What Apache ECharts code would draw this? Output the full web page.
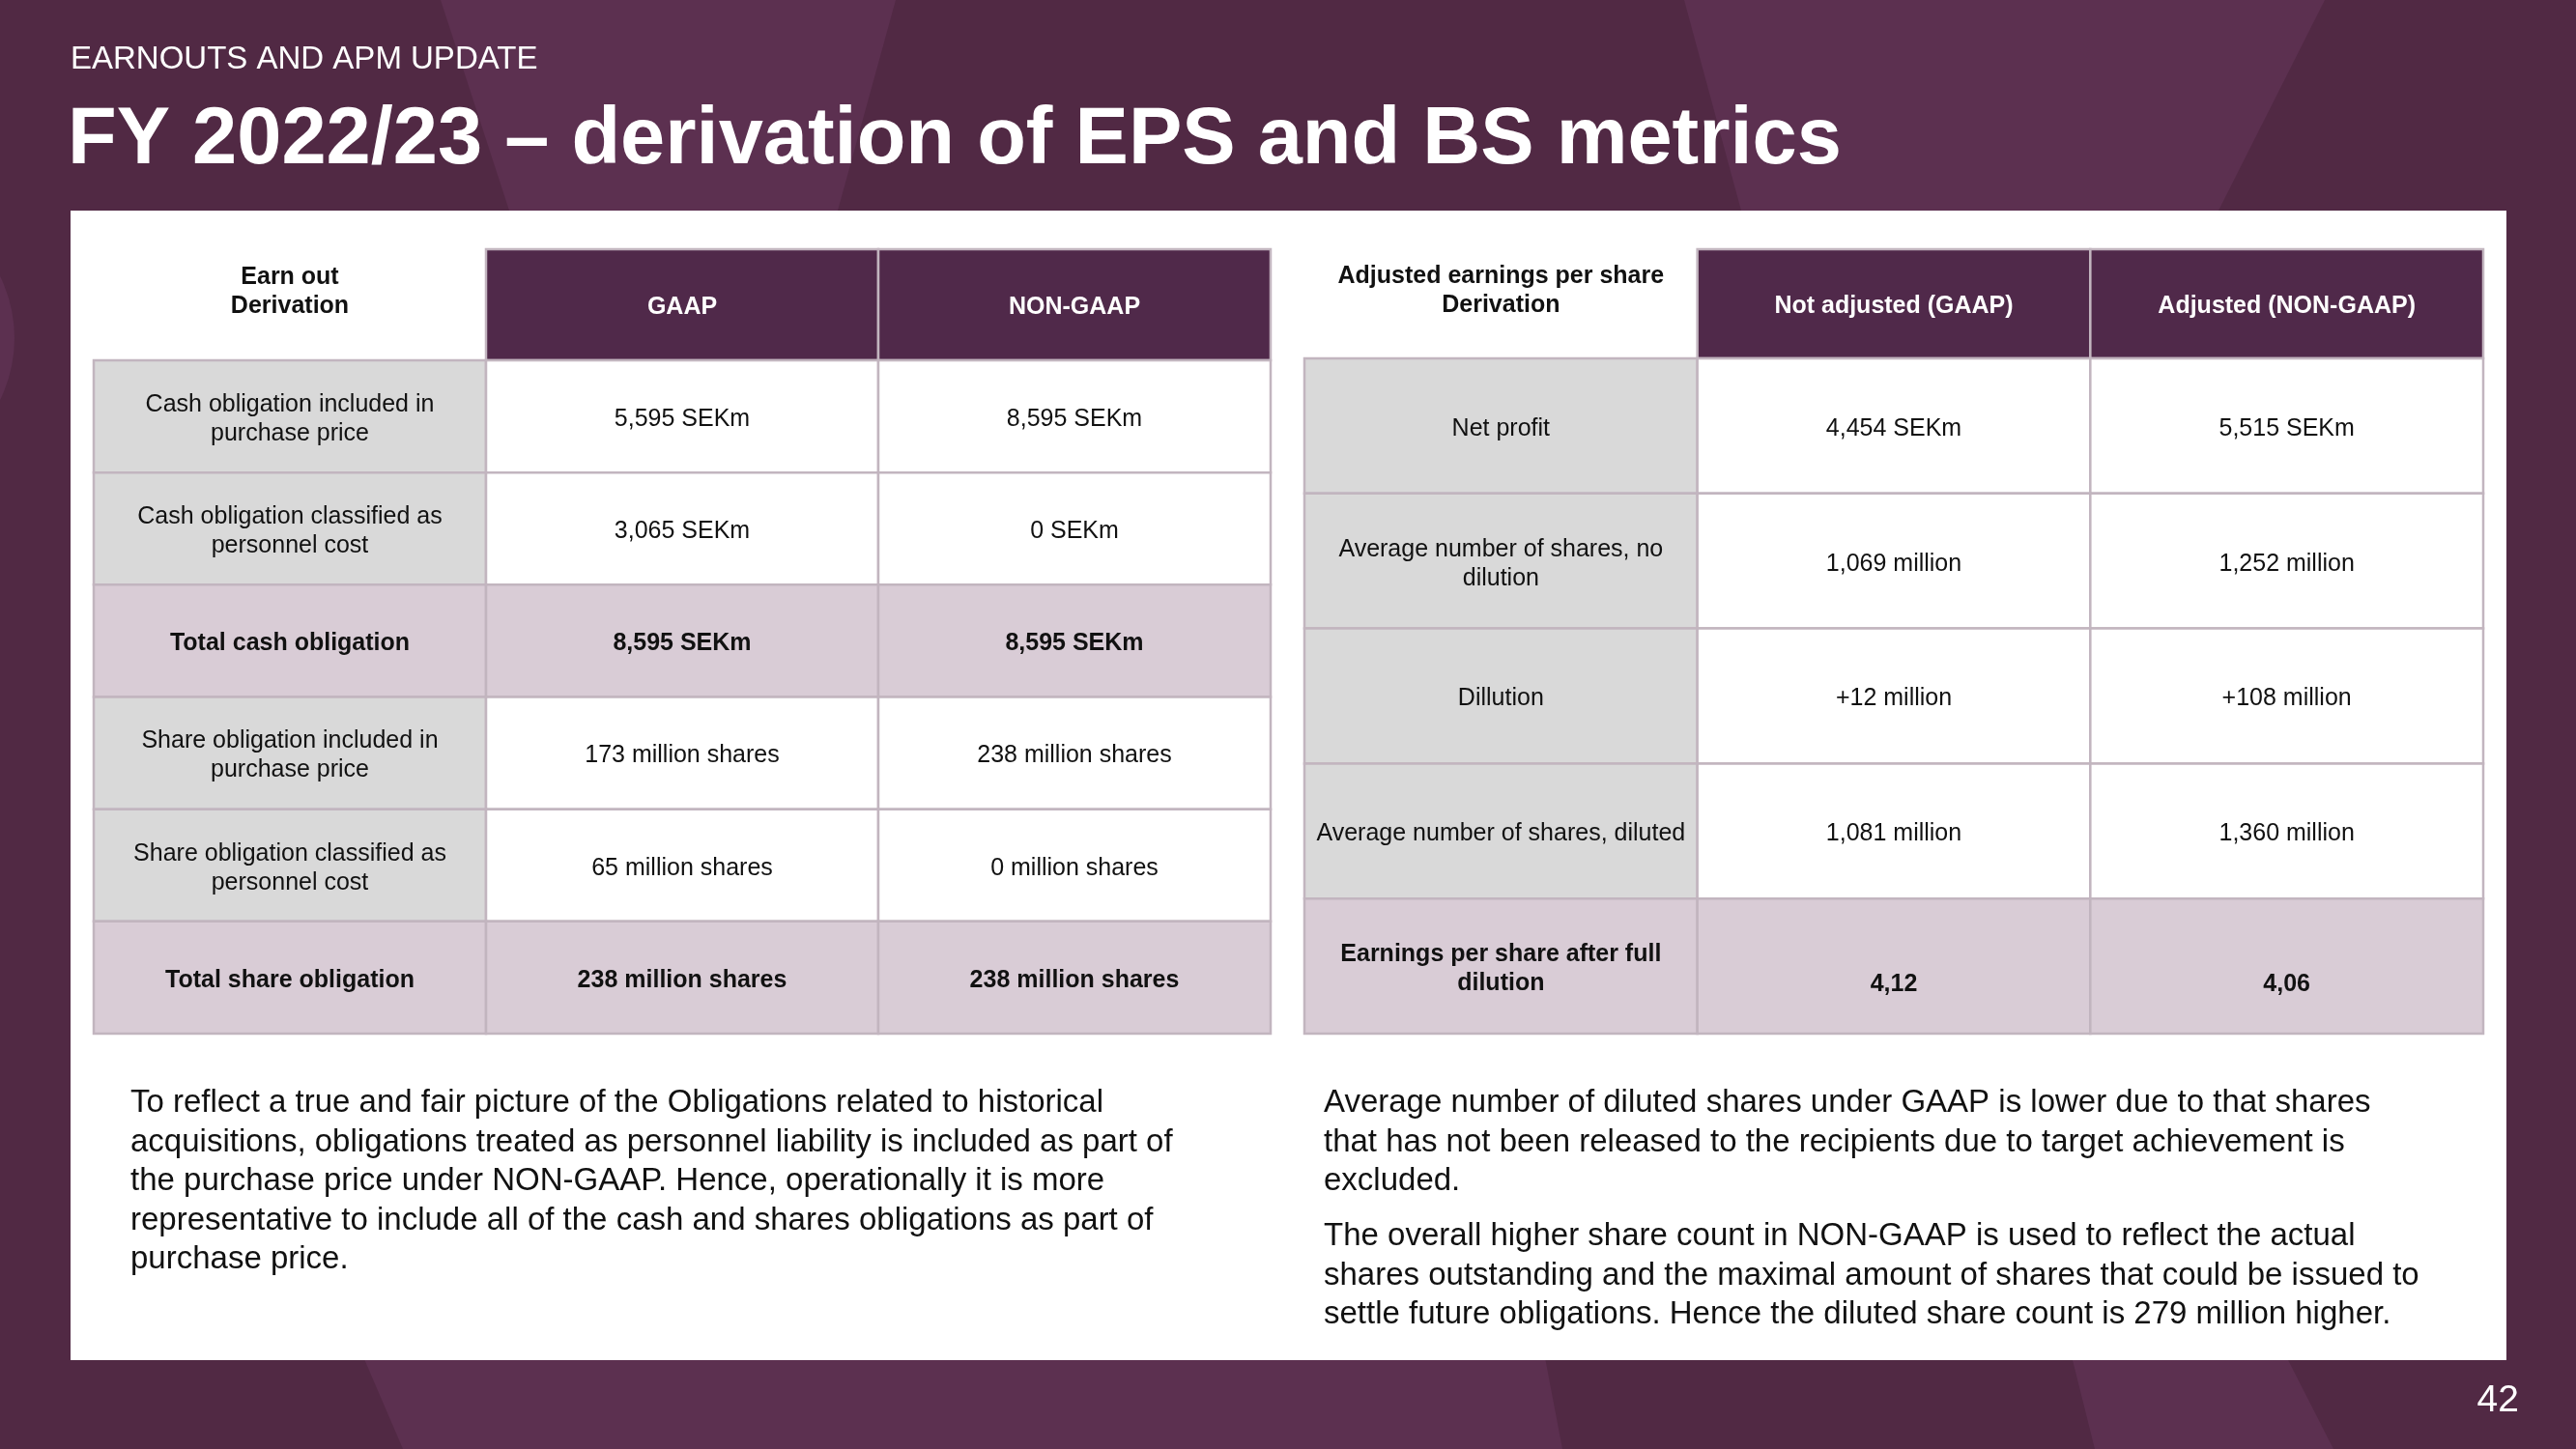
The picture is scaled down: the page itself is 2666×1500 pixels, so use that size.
<!DOCTYPE html>
<html><head><meta charset="utf-8">
<script src="https://cdn.jsdelivr.net/npm/echarts@6/dist/echarts.min.js"></script>
<style>html,body{margin:0;padding:0;background:#512944;}#c{width:2666px;height:1500px;}</style>
</head><body><div id="c"></div>
<script>
const FONT = '"Liberation Sans", Arial, Helvetica, sans-serif';

// ---- Earn-out table data ----
const earnoutHeaders = ['Earn out\nDerivation', 'GAAP', 'NON-GAAP'];
const earnoutRows = [
  'Cash obligation included in\npurchase price',
  'Cash obligation classified as\npersonnel cost',
  'Total cash obligation',
  'Share obligation included in\npurchase price',
  'Share obligation classified as\npersonnel cost',
  'Total share obligation'
];
const earnoutGaap = ['5,595 SEKm', '3,065 SEKm', '8,595 SEKm', '173 million shares', '65 million shares', '238 million shares'];
const earnoutNonGaap = ['8,595 SEKm', '0 SEKm', '8,595 SEKm', '238 million shares', '0 million shares', '238 million shares'];
const earnoutTotalRows = [2, 5];

// ---- EPS table data ----
const epsHeaders = ['Adjusted earnings per share\nDerivation', 'Not adjusted (GAAP)', 'Adjusted (NON-GAAP)'];
const epsRows = [
  'Net profit',
  'Average number of shares, no\ndilution',
  'Dillution',
  'Average number of shares, diluted',
  'Earnings per share after full\ndilution'
];
const epsGaap = ['4,454 SEKm', '1,069 million', '+12 million', '1,081 million', '4,12'];
const epsNonGaap = ['5,515 SEKm', '1,252 million', '+108 million', '1,360 million', '4,06'];
const epsTotalRows = [4];

// ---- Texts ----
const kicker = 'EARNOUTS AND APM UPDATE';
const title = 'FY 2022/23 \u2013 derivation of EPS and BS metrics';
const noteLeft = [
  'To reflect a true and fair picture of the Obligations related to historical',
  'acquisitions, obligations treated as personnel liability is included as part of',
  'the purchase price under NON-GAAP. Hence, operationally it is more',
  'representative to include all of the cash and shares obligations as part of',
  'purchase price.'
];
const noteRight1 = [
  'Average number of diluted shares under GAAP is lower due to that shares',
  'that has not been released to the recipients due to target achievement is',
  'excluded.'
];
const noteRight2 = [
  'The overall higher share count in NON-GAAP is used to reflect the actual',
  'shares outstanding and the maximal amount of shares that could be issued to',
  'settle future obligations. Hence the diluted share count is 279 million higher.'
];
const pageNumber = '42';

// ---- styles ----
const C = {
  bgDark: '#512944', bgLight: '#5c3050', header: '#50294a', label: '#d9d9d9',
  total: '#d9ccd6', white: '#ffffff', border: '#c2b5bf', text: '#111111'
};
const TEXT_DY = 3;
const STYLE = {
  'header-label': { fill: C.white, stroke: null, color: C.text, weight: 'bold', dy: -13 },
  'header': { fill: C.header, stroke: C.border, color: '#ffffff', weight: 'bold', dy: TEXT_DY },
  'label': { fill: C.label, stroke: C.border, color: C.text, weight: 'normal', dy: TEXT_DY },
  'value': { fill: C.white, stroke: C.border, color: C.text, weight: 'normal', dy: TEXT_DY },
  'total-label': { fill: C.total, stroke: C.border, color: C.text, weight: 'bold', dy: TEXT_DY },
  'total-value': { fill: C.total, stroke: C.border, color: C.text, weight: 'bold', dy: TEXT_DY }
};

function headerCells(headers) {
  return headers.map((h, i) => ({ value: [i, 0], text: h, kind: i === 0 ? 'header-label' : 'header' }));
}
function bodyCells(rows, gaap, nongaap, totals) {
  const out = [];
  rows.forEach((r, i) => {
    const t = totals.indexOf(i) >= 0;
    out.push({ value: [0, i], text: r, kind: t ? 'total-label' : 'label' });
    out.push({ value: [1, i], text: gaap[i], kind: t ? 'total-value' : 'value' });
    out.push({ value: [2, i], text: nongaap[i], kind: t ? 'total-value' : 'value' });
  });
  return out;
}

function makeRenderer(cells, valueShiftRows, valueShift) {
  return function (params, api) {
    const cell = cells[params.dataIndex];
    const st = STYLE[cell.kind];
    const p = api.coord([api.value(0), api.value(1)]);
    const s = api.size([1, 1]);
    let dy = st.dy;
    if (valueShiftRows && cell.kind.indexOf('value') >= 0 && valueShiftRows.indexOf(api.value(1)) >= 0) dy = valueShift;
    return {
      type: 'group',
      children: [
        { type: 'rect', shape: { x: p[0] - s[0] / 2, y: p[1] - s[1] / 2, width: s[0], height: s[1] },
          style: { fill: st.fill, stroke: st.stroke || null, lineWidth: st.stroke ? 2.5 : 0 } },
        { type: 'text', style: { text: cell.text, x: p[0], y: p[1] + dy, align: 'center', verticalAlign: 'middle',
          fill: st.color, fontSize: 25, fontWeight: st.weight, fontFamily: FONT, lineHeight: 30 } }
      ]
    };
  };
}

const eHead = headerCells(earnoutHeaders);
const eBody = bodyCells(earnoutRows, earnoutGaap, earnoutNonGaap, earnoutTotalRows);
const pHead = headerCells(epsHeaders);
const pBody = bodyCells(epsRows, epsGaap, epsNonGaap, epsTotalRows);

const hiddenAxis = { show: false };
function catX(i, data) { return Object.assign({ type: 'category', gridIndex: i, data: data, boundaryGap: true }, hiddenAxis); }
function catY(i, data) { return Object.assign({ type: 'category', gridIndex: i, data: data, inverse: true, boundaryGap: true }, hiddenAxis); }

function textLines(lines, x, y, size, lh, extra) {
  return Object.assign({ type: 'text', x: x, y: y, z: 20, silent: true,
    style: { text: lines.join('\n'), fill: '#111111', fontSize: size, fontFamily: FONT, lineHeight: lh,
      align: 'left', verticalAlign: 'top' } }, extra || {});
}

const chart = echarts.init(document.getElementById('c'), null, { renderer: 'canvas' });
chart.setOption({
  backgroundColor: C.bgDark,
  animation: false,
  grid: [
    { left: 97, top: 258, width: 1218, height: 115 },
    { left: 97, top: 373, width: 1218, height: 697 },
    { left: 1350, top: 258, width: 1220, height: 113 },
    { left: 1350, top: 371, width: 1220, height: 699 }
  ],
  xAxis: [catX(0, earnoutHeaders), catX(1, earnoutHeaders), catX(2, epsHeaders), catX(3, epsHeaders)],
  yAxis: [catY(0, ['header']), catY(1, earnoutRows), catY(2, ['header']), catY(3, epsRows)],
  graphic: { elements: [
    { type: 'polygon', z: 0, silent: true, shape: { points: [[456, 0], [927, 0], [867, 218], [527, 218]] }, style: { fill: C.bgLight } },
    { type: 'polygon', z: 0, silent: true, shape: { points: [[1743, 0], [2406, 0], [2296, 218], [1802, 218]] }, style: { fill: C.bgLight } },
    { type: 'polygon', z: 0, silent: true, shape: { points: [[374, 1400], [1598, 1400], [1617, 1500], [417, 1500]] }, style: { fill: C.bgLight } },
    { type: 'polygon', z: 0, silent: true, shape: { points: [[2143, 1400], [2364, 1400], [2415, 1500], [2168, 1500]] }, style: { fill: C.bgLight } },
    { type: 'circle', z: 0, silent: true, shape: { cx: -130, cy: 350, r: 145 }, style: { fill: C.bgLight } },
    { type: 'rect', z: 1, silent: true, shape: { x: 73, y: 218, width: 2521, height: 1190 }, style: { fill: '#ffffff' } },
    { type: 'text', z: 20, silent: true, x: 73, y: 62, style: { text: kicker, fill: '#ffffff', fontSize: 33, fontFamily: FONT, verticalAlign: 'middle', align: 'left' } },
    { type: 'text', z: 20, silent: true, x: 70, y: 146, style: { text: title, fill: '#ffffff', fontSize: 83, fontWeight: 'bold', fontFamily: FONT, verticalAlign: 'middle', align: 'left' } },
    textLines(noteLeft, 135, 1122, 33, 40.5),
    textLines(noteRight1, 1370, 1122, 33, 40.5),
    textLines(noteRight2, 1370, 1260, 33, 40.5),
    { type: 'text', z: 20, silent: true, x: 2607, y: 1450, style: { text: pageNumber, fill: '#ffffff', fontSize: 39, fontFamily: FONT, verticalAlign: 'middle', align: 'right' } }
  ] },
  series: [
    { type: 'custom', xAxisIndex: 0, yAxisIndex: 0, z: 10, silent: true, data: eHead.map(d => d.value), renderItem: makeRenderer(eHead) },
    { type: 'custom', xAxisIndex: 1, yAxisIndex: 1, z: 10, silent: true, data: eBody.map(d => d.value), renderItem: makeRenderer(eBody) },
    { type: 'custom', xAxisIndex: 2, yAxisIndex: 2, z: 10, silent: true, data: pHead.map(d => d.value), renderItem: makeRenderer(pHead) },
    { type: 'custom', xAxisIndex: 3, yAxisIndex: 3, z: 10, silent: true, data: pBody.map(d => d.value), renderItem: makeRenderer(pBody, epsTotalRows, 19) }
  ]
});
</script>
</body></html>
